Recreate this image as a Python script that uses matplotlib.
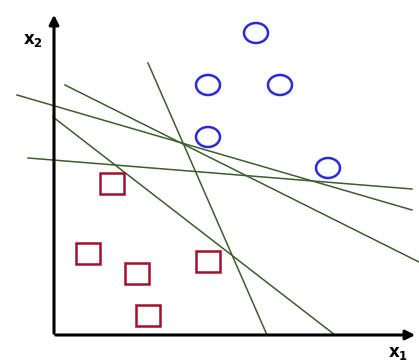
import matplotlib
matplotlib.use("Agg")
import matplotlib.pyplot as plt
from matplotlib.patches import Ellipse, Rectangle

# class 1 (circles) and class 2 (squares)
circle_x1 = [202, 154, 226, 154, 274]
circle_x2 = [302, 250, 250, 198, 167]
square_x1 = [58, 34, 83, 154, 94]
square_x2 = [152, 82, 62, 74, 20]

# candidate separating lines: start and end points
line_x_start = [-37, 11, -1, 94, -26]
line_y_start = [240, 250, 218, 272, 177]
line_x_end = [358, 365, 281, 213, 358]
line_y_end = [125, 73, 0, 0, 146]

fig = plt.figure(figsize=(4.19, 3.61), dpi=100)
ax = fig.add_axes([0, 0, 1, 1])
ax.set_xlim(-54, 365)
ax.set_ylim(-26, 335)
ax.axis("off")

for xs, ys, xe, ye in zip(line_x_start, line_y_start, line_x_end, line_y_end):
    ax.plot([xs, xe], [ys, ye], color="#3b5e2b", linewidth=1.1, zorder=2)

for cx, cy in zip(circle_x1, circle_x2):
    ax.add_patch(Ellipse((cx, cy), 24, 20, fill=False, edgecolor="#2b2bd6",
                         linewidth=1.8, zorder=3))

for sx, sy in zip(square_x1, square_x2):
    ax.add_patch(Rectangle((sx - 12, sy - 10.5), 24, 21, fill=False,
                           edgecolor="#a3102c", linewidth=1.8, zorder=3))

# axes with arrow heads
ax.annotate("", xy=(0, 323), xytext=(0, -1),
            arrowprops=dict(arrowstyle="-|>", color="black", lw=2.2,
                            mutation_scale=14))
ax.annotate("", xy=(364, 0), xytext=(-1, 0),
            arrowprops=dict(arrowstyle="-|>", color="black", lw=2.2,
                            mutation_scale=14))

ax.text(-21, 295, r"$\mathbf{x_2}$", fontsize=12, ha="center", va="center")
ax.text(344, -18, r"$\mathbf{x_1}$", fontsize=12, ha="center", va="center")

plt.savefig("out.png", dpi=100)
